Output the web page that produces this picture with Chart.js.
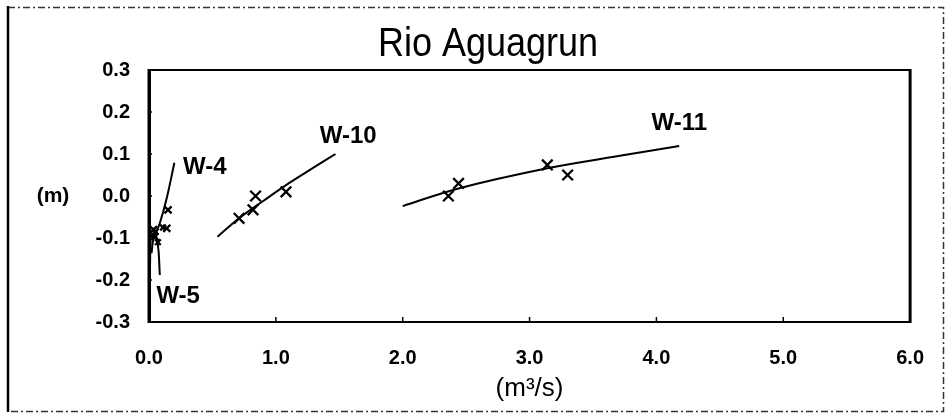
<!DOCTYPE html>
<html><head><meta charset="utf-8">
<script src="https://cdn.jsdelivr.net/npm/chart.js@4.4.1/dist/chart.umd.min.js"></script>
<style>html,body{margin:0;padding:0;background:#fff}#wrap{width:948px;height:419px;position:relative}</style>
</head><body><div id="wrap"><canvas id="c" width="948" height="419"></canvas></div>
<script>
const titleText = 'Rio Aguagrun';
const xAxisLabel = '(m³/s)';
const yAxisLabel = '(m)';

// W-4 (near origin)
const w4PointsX = [0.15, 0.14, 0.035, 0.047];
const w4PointsY = [-0.033, -0.077, -0.08, -0.097];
const w4LineX = [0.02, 0.034, 0.085, 0.14, 0.20];
const w4LineY = [-0.136, -0.105, -0.065, -0.005, 0.079];
// W-5 (near origin)
const w5PointsX = [0.02, 0.05, 0.07, 0.11];
const w5PointsY = [-0.095, -0.085, -0.11, -0.075];
const w5LineX = [0.085, 0.075, 0.06, 0.04, null, 0.008, 0.010, 0.013];
const w5LineY = [-0.188, -0.13, -0.10, -0.08, null, -0.168, -0.135, -0.105];
// W-10
const w10PointsX = [0.71, 0.84, 0.82, 1.08];
const w10PointsY = [-0.053, 0.0, -0.033, 0.01];
const w10LineX = [0.54, 0.71, 0.90, 1.08, 1.30, 1.47];
const w10LineY = [-0.097, -0.053, -0.012, 0.026, 0.068, 0.10];
// W-11
const w11PointsX = [2.36, 2.44, 3.14, 3.30];
const w11PointsY = [0.0, 0.03, 0.074, 0.05];
const w11LineX = [2.0, 2.44, 3.14, 3.7, 4.18];
const w11LineY = [-0.024, 0.018, 0.066, 0.095, 0.119];

// series name labels (anchored in data units)
const seriesNames = ['W-4', 'W-5', 'W-10', 'W-11'];
const nameX = [0.44, 0.23, 1.57, 4.18];
const nameY = [0.069, -0.238, 0.143, 0.174];

const zip = (xs, ys) => xs.map((x, i) => ({x: x, y: ys[i]}));

function lineDs(xs, ys) {
  return {type: 'scatter', data: zip(xs, ys), showLine: true, borderColor: '#000', borderWidth: 2,
    pointRadius: 0, pointHoverRadius: 0, tension: 0.35, spanGaps: false, fill: false};
}
function ptDs(xs, ys, r) {
  return {type: 'scatter', data: zip(xs, ys), showLine: false, pointStyle: 'crossRot',
    pointRadius: r, borderColor: '#000', backgroundColor: '#000', pointBorderWidth: 2.3};
}

const framePlugin = {
  id: 'frame',
  beforeDraw(chart) {
    const c = chart.ctx;
    c.save();
    c.fillStyle = '#fff';
    c.fillRect(0, 0, chart.width, chart.height);
    c.strokeStyle = '#333';
    c.lineWidth = 1.5;
    c.setLineDash([7, 3, 2, 3]);
    c.beginPath();
    c.moveTo(8, 7.5); c.lineTo(943.5, 7.5); c.lineTo(943.5, 411.5); c.lineTo(8, 411.5);
    c.stroke();
    c.setLineDash([]);
    c.lineWidth = 2.5;
    c.strokeStyle = '#000';
    c.beginPath(); c.moveTo(8, 6); c.lineTo(8, 412); c.stroke();
    c.restore();
  },
  afterDraw(chart) {
    const c = chart.ctx, a = chart.chartArea;
    const xs = chart.scales.x, ys = chart.scales.y;
    c.save();
    c.strokeStyle = '#000';
    c.lineWidth = 2;
    c.beginPath(); c.moveTo(a.left, a.top); c.lineTo(a.right, a.top); c.stroke();
    c.lineWidth = 3;
    c.beginPath(); c.moveTo(a.right, a.top - 1); c.lineTo(a.right, a.bottom + 1); c.stroke();
    c.beginPath(); c.moveTo(a.left, a.top - 1); c.lineTo(a.left, a.bottom + 1); c.stroke();
    // small inward tick marks
    c.lineWidth = 1.5;
    xs.ticks.forEach(t => {
      const px = xs.getPixelForValue(t.value);
      if (px > a.left + 2 && px < a.right - 2) { c.beginPath(); c.moveTo(px, a.bottom); c.lineTo(px, a.bottom - 5); c.stroke(); }
    });
    ys.ticks.forEach(t => {
      const py = ys.getPixelForValue(t.value);
      if (py > a.top + 2 && py < a.bottom - 2) { c.beginPath(); c.moveTo(a.left, py); c.lineTo(a.left + 3, py); c.stroke(); }
    });
    c.fillStyle = '#000';
    c.textAlign = 'center';
    c.textBaseline = 'middle';
    // chart title (condensed look)
    c.save();
    c.font = 'normal 40px "Liberation Sans", Arial, sans-serif';
    c.translate(488, 45);
    c.scale(0.9, 1);
    c.fillText(titleText, 0, 0);
    c.restore();
    // y axis label (horizontal)
    c.font = 'bold 21px "Liberation Sans", Arial, sans-serif';
    c.fillText(yAxisLabel, 53, ys.getPixelForValue(0));
    // series labels
    c.font = 'bold 24px "Liberation Sans", Arial, sans-serif';
    seriesNames.forEach((n, i) => {
      c.fillText(n, xs.getPixelForValue(nameX[i]), ys.getPixelForValue(nameY[i]));
    });
    c.restore();
  }
};

new Chart(document.getElementById('c'), {
  type: 'scatter',
  data: {
    datasets: [
      lineDs(w4LineX, w4LineY), ptDs(w4PointsX, w4PointsY, 5),
      lineDs(w5LineX, w5LineY), ptDs(w5PointsX, w5PointsY, 4),
      lineDs(w10LineX, w10LineY), ptDs(w10PointsX, w10PointsY, 7.5),
      lineDs(w11LineX, w11LineY), ptDs(w11PointsX, w11PointsY, 7.5)
    ]
  },
  options: {
    responsive: false,
    animation: false,
    devicePixelRatio: 1,
    layout: {padding: {left: 0, right: 27, top: 70, bottom: 0}},
    plugins: {
      legend: {display: false},
      tooltip: {enabled: false},
      title: {display: false}
    },
    scales: {
      x: {
        type: 'linear', min: 0, max: 6,
        afterFit(s) { s.height = 97; },
        grid: {display: false, drawTicks: false},
        border: {display: true, color: '#000', width: 2},
        ticks: {stepSize: 1, padding: 24, color: '#000', maxRotation: 0,
          font: {family: '"Liberation Sans", Arial, sans-serif', size: 20, weight: 'bold'},
          callback: v => Number(v).toFixed(1)},
        title: {display: true, text: xAxisLabel, color: '#000', padding: {top: 0, bottom: 15},
          font: {family: '"Liberation Sans", Arial, sans-serif', size: 26, weight: 'normal', lineHeight: 1.2}}
      },
      y: {
        type: 'linear', min: -0.3, max: 0.3,
        afterFit(s) { s.width = 149; },
        grid: {display: false, drawTicks: false},
        border: {display: true, color: '#000', width: 3},
        ticks: {stepSize: 0.1, padding: 19, color: '#000',
          font: {family: '"Liberation Sans", Arial, sans-serif', size: 20, weight: 'bold'},
          callback: v => (Math.abs(v) < 1e-9 ? 0 : v).toFixed(1)}
      }
    }
  },
  plugins: [framePlugin]
});
</script>
</body></html>
